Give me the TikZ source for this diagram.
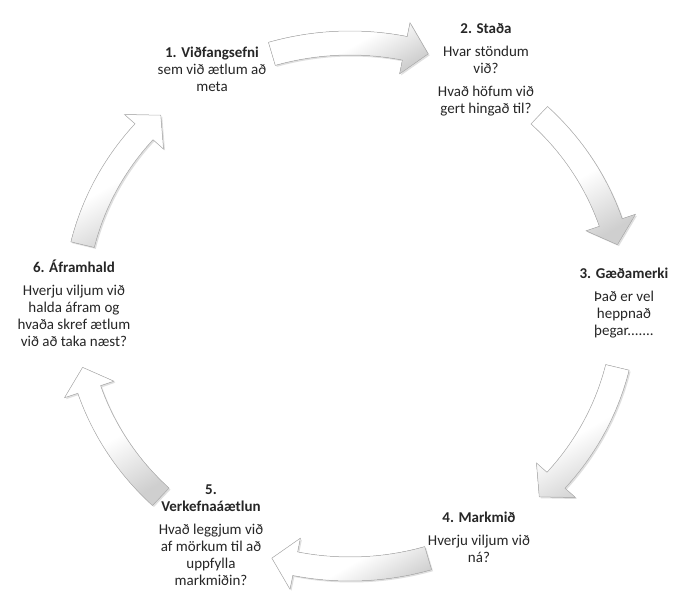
\documentclass[tikz,border=0pt]{standalone}
\usepackage{fontspec}
\setmainfont{Carlito}
\usetikzlibrary{
    shadows,
    calc
}

% ellipse radii of the cycle, band and head half widths, head length (deg)
\newcommand{\cyclearrow}[2]{%
    \filldraw[blockarrow]
    (#1:287 and 275) arc[start angle=#1, end angle=#2+5, x radius=287, y radius=275]
    -- (#2+5:301 and 289)
    -- (#2:275 and 263)
    -- (#2+5:249 and 237)
    -- (#2+5:263 and 251)
    arc[start angle=#2+5, end angle=#1, x radius=263, y radius=251]
    -- cycle;}

\tikzset{
    stage/.style={align=center, text=black!85, font=\fontsize{15}{17}\selectfont, inner sep=0pt},
    blockarrow/.style={draw=gray!55, line width=0.5pt,
        top color=white, bottom color=gray!38, middle color=white, shading angle=30,
        drop shadow={shadow xshift=1.5pt, shadow yshift=-1.5pt, opacity=0.25, fill=gray}}
}

\begin{document}
\begin{tikzpicture}[x=1pt, y=1pt]
                        \useasboundingbox (-350, -284) rectangle (325, 306);
                        \fill[white] (-350, -284) rectangle (325, 306);
                        \node[stage] (s1) at (-138, 237) {\textbf{1. Viðfangsefni}\\sem við ætlum að\\meta};
                        \node[stage] (s2) at (136, 236) {\textbf{2. Staða}\\[6pt]Hvar stöndum\\við?\\[6pt]Hvað höfum við\\gert hingað til?};
                        \node[stage] (s3) at (274, 3) {\textbf{3. Gæðamerki}\\[6pt]Það er vel\\heppnað\\þegar.......};
                        \node[stage] (s4) at (129, -231) {\textbf{4. Markmið}\\[6pt]Hverju viljum við\\ná?};
                        \node[stage] (s5) at (-139, -229) {\textbf{5.}\\\textbf{Verkefnaáætlun}\\[6pt]Hvað leggjum við\\af mörkum til að\\uppfylla\\markmiðin?};
                        \node[stage] (s6) at (-276, 3) {\textbf{6. Áframhald}\\[6pt]Hverju viljum við\\halda áfram og\\hvaða skref ætlum\\við að taka næst?};
                        \cyclearrow{106.5}{73.5}
                        \cyclearrow{46.5}{13.5}
                        \cyclearrow{-13.5}{-46.5}
                        \cyclearrow{-73.5}{-106.5}
                        \cyclearrow{-133.5}{-166.5}
                        \cyclearrow{166.5}{133.5}
                    \end{tikzpicture}
\end{document}
